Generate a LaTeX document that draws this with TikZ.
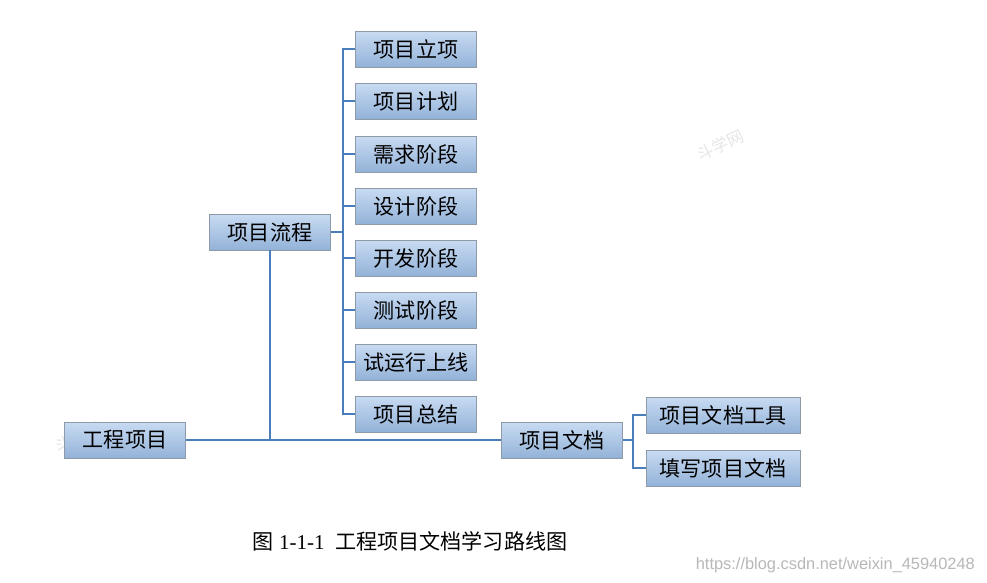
\documentclass[tikz,border=0pt]{standalone}
\usepackage{fontspec}
\setmainfont{Liberation Serif}
\setsansfont{Liberation Sans}
\newfontfamily\cjk{Noto Sans CJK SC}
\usetikzlibrary{positioning, shadows}
\definecolor{boxtop}{HTML}{C8DBF2}
\definecolor{boxbot}{HTML}{93B2D8}
\definecolor{boxline}{HTML}{8E9AA8}
\definecolor{linkblue}{HTML}{4A7EBB}
\definecolor{wmark}{HTML}{E6E6E6}
\definecolor{urlgray}{HTML}{B8B8B8}

\tikzset{
  box/.style={draw=boxline, line width=0.8pt, top color=boxtop, bottom color=boxbot,
    minimum width=3.63cm, minimum height=1.08cm, inner sep=0pt,
    font=\cjk\fontsize{18}{20}\selectfont,
    drop shadow={shadow xshift=0.7pt, shadow yshift=-0.7pt, opacity=0.35}},
  widebox/.style={box, minimum width=4.62cm},
  link/.style={linkblue, line width=1.6pt},
}

\begin{document}
\begin{tikzpicture}[x=0.03cm, y=-0.03cm]

% Background
\fill[white] (0,0) rectangle (987,582);
\useasboundingbox (0,0) rectangle (987,582);

% Watermarks
\node[text=wmark, rotate=25, font=\cjk\fontsize{14}{16}\selectfont] (wm1) at (720,145) {斗学网};
\node[text=wmark, rotate=25, font=\cjk\fontsize{14}{16}\selectfont] (wm2) at (78,437) {斗学网};

% Root and first level
\node[box] (root) at (125,440) {工程项目};
\node[box] (flow) at (270,232) {项目流程};
\node[box] (doc) at (562,440) {项目文档};

% Process stages
\node[box] (s1) at (416,49) {项目立项};
\node[box] (s2) at (416,101) {项目计划};
\node[box] (s3) at (416,154) {需求阶段};
\node[box] (s4) at (416,206) {设计阶段};
\node[box] (s5) at (416,258) {开发阶段};
\node[box] (s6) at (416,310) {测试阶段};
\node[box] (s7) at (416,362) {试运行上线};
\node[box] (s8) at (416,414) {项目总结};

% Document children
\node[widebox] (d1) at (723,415) {项目文档工具};
\node[widebox] (d2) at (723,468) {填写项目文档};

% Connectors
\coordinate (fspine) at (343,232);
\coordinate (dspine) at (633,440);
\draw[link] (root.east) -- (doc.west);
\draw[link] (flow.south) -- (flow.south |- root.east);
\draw[link] (flow.east) -- (fspine);
\foreach \n in {s1,s2,s3,s4,s5,s6,s7,s8} {
  \draw[link] (fspine) |- (\n.west);
}
\draw[link] (doc.east) -- (dspine);
\foreach \n in {d1,d2} {
  \draw[link] (dspine) |- (\n.west);
}

% Caption
\node[font=\fontsize{18}{21}\selectfont] (cap) at (410,541)
  {{\cjk 图} 1-1-1\ \ {\cjk 工程项目文档学习路线图}};
\node[text=urlgray, font=\sffamily\fontsize{14}{16}\selectfont, anchor=east] (url) at (979,565)
  {https://blog.csdn.net/weixin\_45940248};

\end{tikzpicture}
\end{document}
